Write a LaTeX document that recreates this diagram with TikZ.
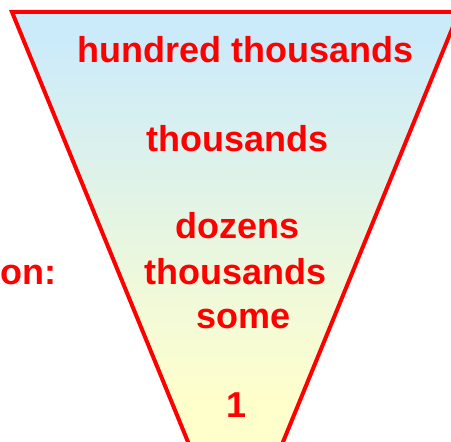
\documentclass[tikz,border=0pt]{standalone}
\usepackage{fontspec}
\setmainfont{Liberation Sans}
\definecolor{funnelTop}{RGB}{204,235,250}
\definecolor{funnelBot}{RGB}{255,255,204}
\definecolor{textRed}{RGB}{255,0,0}
\begin{document}
\begin{tikzpicture}[x=1pt,y=1pt,
  lbl/.style={inner sep=0pt, anchor=base, text=textRed, font=\fontsize{36}{43}\selectfont\bfseries},
  funnel/.style={draw=textRed, line width=4pt, line join=miter}]
\useasboundingbox (0,0) rectangle (451,442);
\clip (0,0) rectangle (451,442);
\begin{scope}
  \clip (12,430) -- (459,430) -- (235.5,-116) -- cycle;
  \shade[top color=funnelTop, bottom color=funnelBot] (0,40) rectangle (460,400);
  \fill[funnelTop] (0,400) rectangle (460,431);
  \fill[funnelBot] (0,-1) rectangle (460,40);
\end{scope}
\draw[funnel] (12,430) -- (459,430) -- (235.5,-116) -- cycle;
\node[lbl] (ht) at (245.5,379) {hundred thousands};
\node[lbl] (th) at (237.5,290) {thousands};
\node[lbl] (dz) at (237.5,203) {dozens};
\node[lbl] (th2) at (235.5,157) {thousands};
\node[lbl] (sm) at (243.5,113) {some};
\node[lbl] (one) at (237,24) {1};
\node[lbl, anchor=base east] (on) at (57,157) {on:};
\end{tikzpicture}
\end{document}
